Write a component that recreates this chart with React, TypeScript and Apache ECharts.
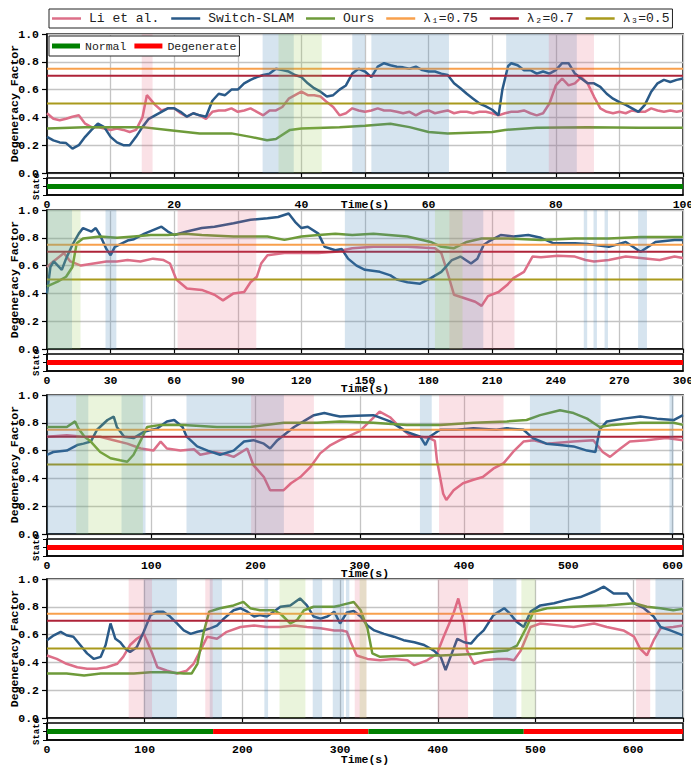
import React, { useEffect, useRef } from 'react';
import * as echarts from 'echarts';

// ---------- data ----------
const thresholds = [0.75, 0.7, 0.5];
const thresholdNames = ['λ₁=0.75', 'λ₂=0.7', 'λ₃=0.5'];
const methodNames = ['Li et al.', 'Switch-SLAM', 'Ours'];
const stateNames = ['Normal', 'Degenerate'];

// Panel 1 (0-100 s)
const p1Li = [[0,.43],[1,.39],[2,.38],[3,.39],[4,.405],[5,.415],[6,.355],[7,.33],[8,.33],[9,.32],[10,.31],[11,.32],[12,.31],[13,.295],[14,.31],[15,.4],[15.7,.56],[17,.49],[18,.45],[19,.465],[20,.465],[21,.43],[22,.405],[23,.43],[24,.415],[25,.39],[26,.44],[27,.45],[28,.45],[29,.465],[30,.44],[31,.45],[32,.465],[33,.44],[34,.415],[35,.45],[36,.45],[37,.475],[38,.535],[39,.56],[40,.585],[41,.56],[42,.56],[43,.55],[44,.51],[45,.475],[46,.415],[47,.43],[48,.465],[49,.45],[50,.44],[51,.45],[52,.465],[53,.45],[54,.45],[55,.44],[56,.43],[57,.44],[58,.415],[59,.44],[60,.45],[61,.43],[62,.44],[63,.45],[64,.43],[65,.44],[66,.44],[67,.43],[68,.44],[69,.44],[70,.43],[71,.415],[72,.43],[73,.44],[74,.44],[75,.45],[76,.43],[77,.415],[78,.43],[79,.5],[80,.63],[81,.68],[82,.63],[83,.645],[84,.69],[85,.645],[86,.55],[87,.465],[88,.44],[89,.43],[90,.44],[91,.43],[92,.45],[93,.44],[94,.44],[95,.465],[96,.45],[97,.44],[98,.45],[99,.44],[100,.45]];
const p1Switch = [[0,.26],[1,.235],[2,.22],[3,.215],[4,.175],[5,.2],[6,.26],[7,.31],[8,.355],[9,.33],[10,.26],[11,.22],[12,.2],[13,.2],[14,.26],[15,.33],[16,.39],[17,.415],[18,.44],[19,.465],[20,.465],[21,.44],[22,.405],[23,.43],[24,.415],[25,.405],[26,.52],[27,.57],[28,.56],[29,.6],[30,.6],[31,.645],[32,.67],[33,.69],[34,.705],[35,.715],[36,.75],[37,.74],[38,.73],[39,.705],[40,.69],[41,.645],[42,.61],[43,.585],[44,.55],[45,.56],[46,.6],[47,.63],[48,.715],[49,.75],[50,.73],[51,.69],[52,.765],[53,.79],[54,.775],[55,.765],[56,.76],[57,.75],[58,.765],[59,.74],[60,.73],[61,.73],[62,.715],[63,.705],[64,.645],[65,.61],[66,.57],[67,.535],[68,.5],[69,.48],[70,.455],[71,.415],[71.6,.6],[72.5,.77],[73,.79],[74,.775],[75,.74],[76,.74],[77,.715],[78,.73],[79,.715],[80,.74],[81,.79],[82,.79],[83,.715],[84,.68],[85,.645],[86,.645],[87,.62],[88,.57],[89,.535],[90,.51],[91,.49],[92,.465],[93,.44],[94,.49],[95,.585],[96,.645],[97,.67],[98,.655],[99,.67],[100,.68]];
const p1Ours = [[0,.32],[6,.33],[15,.33],[19,.31],[24,.285],[29,.285],[32,.26],[34.6,.235],[36,.245],[38.2,.31],[40,.32],[46,.33],[50,.34],[54,.355],[57,.33],[60,.295],[63,.285],[70,.295],[72,.31],[77,.325],[85,.33],[93,.325],[100,.325]];
const p1Blue = [[33.9,38.8],[48,50],[51,63.2],[72.2,83.3]];
const p1Pink = [[14.9,16.6],[78.9,86.0]];
const p1Green = [[36.4,43.2]];
const p1States = [[0,100,0]];

// Panel 2 (0-300 s)
const p2Li = [[0,.59],[3,.63],[8,.69],[11,.63],[16,.6],[22,.615],[28,.63],[33,.63],[38,.64],[44,.63],[50,.65],[55,.64],[58,.615],[61,.5],[66,.435],[73,.425],[79,.39],[83,.35],[88,.4],[93,.41],[96,.48],[99,.52],[101,.615],[104,.675],[112,.69],[120,.69],[128,.69],[136,.7],[144,.725],[154,.735],[170,.735],[183,.725],[186,.69],[189,.545],[192,.39],[197,.365],[202,.34],[205,.31],[208,.38],[213,.41],[217,.46],[220,.51],[225,.555],[229,.665],[233,.66],[241,.67],[249,.665],[254,.64],[258,.63],[265,.64],[273,.665],[280,.655],[289,.64],[296,.665],[300,.655]];
const p2Switch = [[0,.4],[1.6,.59],[3.2,.63],[7,.57],[9,.65],[12,.75],[15,.83],[17,.87],[21,.845],[23,.87],[25,.82],[28,.72],[30,.675],[32,.735],[38,.78],[41,.79],[46,.83],[54,.88],[57,.845],[60,.82],[66,.845],[73,.87],[79,.88],[88,.905],[96,.93],[104,.94],[109,.95],[114,.975],[117,.915],[120,.87],[123,.88],[128,.83],[131,.735],[136,.71],[139,.72],[142,.65],[146,.6],[150,.57],[157,.555],[162,.53],[165,.5],[170,.48],[176,.47],[181,.51],[186,.555],[191,.64],[195,.665],[200,.615],[203,.65],[206,.75],[208,.77],[214,.82],[220,.81],[227,.82],[233,.8],[239,.76],[249,.76],[255,.755],[265,.735],[273,.77],[280,.7],[287,.77],[296,.785],[300,.785]];
const p2Ours = [[0,.45],[5,.485],[9,.52],[12,.59],[14,.76],[17,.795],[25,.81],[33,.8],[41,.81],[49,.82],[57,.82],[65,.83],[73,.82],[88,.81],[104,.81],[112,.785],[120,.81],[128,.82],[136,.83],[144,.82],[154,.83],[170,.81],[181,.77],[186,.735],[192,.725],[198,.77],[205,.795],[217,.795],[233,.785],[249,.795],[265,.795],[280,.805],[296,.805],[300,.805]];
const p2Blue = [[0,11.8],[27.6,32.7],[140.5,205.8],[253.2,254.8],[257.8,259.4],[263,264.6],[278.8,283]];
const p2Pink = [[61.6,98.7],[189.8,220.5]];
const p2Green = [[0,15.8],[183,196]];
const p2States = [[0,300,1]];

// Panel 3 (0-610 s)
const p3Li = [[0,.7],[19,.71],[35,.7],[51,.7],[64,.675],[77,.65],[90,.615],[102,.6],[109,.665],[115,.615],[128,.6],[141,.61],[147,.57],[160,.59],[173,.57],[179,.555],[192,.615],[198,.495],[208,.41],[214,.315],[221,.315],[227,.315],[234,.365],[243,.41],[253,.485],[262,.58],[272,.64],[281,.675],[300,.74],[319,.88],[329,.84],[338,.77],[348,.71],[358,.7],[367,.69],[372,.67],[374,.53],[380,.29],[383,.245],[390,.315],[399,.365],[409,.39],[418,.41],[428,.47],[438,.51],[447,.59],[457,.665],[467,.675],[479,.65],[505,.665],[524,.675],[533,.59],[540,.555],[550,.615],[559,.665],[575,.675],[594,.69],[610,.675]];
const p3Switch = [[0,.57],[6,.59],[19,.6],[29,.64],[35,.65],[42,.665],[48,.75],[58,.82],[64,.845],[67,.77],[74,.7],[83,.69],[93,.735],[106,.76],[115,.81],[122,.82],[130,.77],[134,.7],[144,.63],[154,.6],[166,.57],[179,.6],[189,.665],[198,.675],[208,.65],[214,.615],[221,.675],[227,.71],[237,.77],[246,.81],[256,.855],[266,.87],[275,.855],[281,.845],[297,.85],[313,.855],[329,.81],[345,.735],[358,.7],[363,.64],[367,.7],[377,.75],[393,.75],[409,.76],[431,.75],[441,.76],[457,.75],[466,.69],[479,.65],[492,.64],[505,.63],[518,.6],[526,.59],[530,.75],[537,.81],[553,.83],[569,.845],[585,.83],[601,.82],[610,.855]];
const p3Ours = [[0,.77],[19,.77],[27,.81],[30,.76],[36,.7],[42,.665],[51,.59],[61,.545],[70,.53],[77,.52],[83,.57],[90,.675],[96,.77],[109,.785],[131,.785],[163,.77],[195,.77],[227,.8],[259,.8],[281,.81],[313,.8],[345,.785],[377,.785],[409,.8],[441,.81],[460,.82],[473,.855],[492,.89],[505,.87],[518,.83],[530,.77],[543,.785],[569,.8],[601,.8],[610,.785]];
const p3Blue = [[0,39.6],[71.5,94.5],[133.8,227.2],[357.7,369],[463.2,531],[597,601]];
const p3Pink = [[195.8,256],[376,437.9]];
const p3Green = [[28,92]];
const p3States = [[0,610,1]];

// Panel 4 (0-651 s)
const p4Li = [[0,.45],[10,.425],[20,.39],[31,.365],[41,.355],[51,.355],[61,.365],[72,.39],[78,.44],[85,.525],[92,.57],[99,.605],[102,.56],[108,.46],[113,.365],[123,.34],[133,.32],[143,.34],[150,.39],[157,.485],[164,.585],[174,.57],[184,.62],[198,.655],[212,.665],[225,.655],[239,.655],[253,.665],[266,.655],[280,.645],[294,.63],[302,.63],[307,.62],[311,.545],[317,.45],[328,.425],[341,.415],[355,.425],[369,.415],[376,.38],[389,.415],[399,.46],[406,.585],[416,.75],[421,.86],[427,.68],[430,.485],[437,.39],[447,.415],[461,.425],[471,.425],[478,.415],[485,.485],[495,.655],[505,.68],[519,.67],[539,.655],[560,.68],[573,.655],[590,.63],[601,.585],[607,.5],[614,.45],[621,.56],[628,.645],[641,.655],[651,.665]];
const p4Switch = [[0,.56],[7,.595],[14,.62],[20,.595],[27,.585],[34,.525],[41,.465],[48,.425],[55,.44],[60,.525],[65,.68],[70,.57],[75,.545],[80,.5],[85,.475],[92,.51],[99,.62],[106,.74],[113,.765],[119,.765],[126,.73],[133,.68],[140,.63],[147,.605],[154,.62],[160,.63],[167,.645],[174,.665],[181,.715],[191,.775],[198,.79],[205,.765],[212,.73],[218,.74],[225,.73],[232,.765],[239,.8],[249,.81],[259,.86],[266,.81],[273,.73],[280,.715],[287,.73],[294,.765],[300,.68],[307,.76],[314,.77],[321,.73],[328,.665],[335,.63],[345,.605],[355,.585],[365,.56],[376,.545],[386,.525],[396,.485],[403,.44],[408,.345],[413,.44],[420,.57],[427,.545],[434,.535],[440,.585],[447,.63],[457,.74],[468,.79],[474,.75],[481,.69],[488,.655],[495,.765],[505,.81],[519,.825],[532,.85],[546,.87],[560,.91],[570,.945],[580,.895],[594,.895],[601,.825],[611,.79],[621,.73],[628,.655],[638,.63],[651,.595]];
const p4Ours = [[0,.32],[20,.32],[38,.305],[55,.32],[72,.32],[89,.32],[106,.33],[123,.33],[140,.32],[148,.32],[154,.39],[160,.605],[166,.765],[177,.79],[191,.81],[201,.835],[208,.79],[218,.775],[232,.775],[239,.75],[249,.68],[256,.705],[263,.775],[273,.8],[294,.8],[300,.81],[314,.835],[321,.775],[328,.645],[333,.465],[341,.44],[369,.45],[403,.45],[437,.46],[454,.475],[471,.485],[481,.52],[491,.655],[498,.765],[512,.79],[539,.8],[573,.81],[601,.825],[614,.8],[628,.79],[641,.775],[651,.785]];
const p4Blue = [[99,133],[166.6,179],[222.5,226.3],[272,281.6],[292.5,304],[306,309.5],[456.6,480.5],[622.8,651]];
const p4Pink = [[83.6,107.5],[162,169.6],[315,327],[400,431],[603,617.4]];
const p4Green = [[238,264.5],[320,327],[485.6,500]];
const p4States = [[0,170,0],[170,329,1],[329,488,0],[488,651,1]];

// axis extents / ticks
const xMax = [100, 300, 610, 651];
const xMainStep = [10, 30, 100, 100];
const xLabelStep = [20, 30, 100, 100];

// ---------- styling / layout ----------
const MONO = '"Liberation Mono", "DejaVu Sans Mono", monospace';
const C_LI = '#DD6F88';
const C_SW = '#2A5A88';
const C_OURS = '#6E9B3A';
const C_TH = ['#F8A04C', '#AE2338', '#A99A1C'];
const C_STATE = ['#008000', '#FF0000'];
const SHADE_BLUE = 'rgba(70,130,180,0.22)';
const SHADE_PINK = 'rgba(225,90,115,0.18)';
const SHADE_GREEN = 'rgba(150,200,80,0.2)';

const mainTop = [34, 210, 395, 579];
const mainH = 139;
const stateTop = [178, 354, 539, 723];
const stateH = 17;
const timeGap = [3, 11, 11, 13];

const panels = [
  { li: p1Li, sw: p1Switch, ours: p1Ours, blue: p1Blue, pink: p1Pink, green: p1Green, states: p1States },
  { li: p2Li, sw: p2Switch, ours: p2Ours, blue: p2Blue, pink: p2Pink, green: p2Green, states: p2States },
  { li: p3Li, sw: p3Switch, ours: p3Ours, blue: p3Blue, pink: p3Pink, green: p3Green, states: p3States },
  { li: p4Li, sw: p4Switch, ours: p4Ours, blue: p4Blue, pink: p4Pink, green: p4Green, states: p4States },
];

function buildOption() {
  const grid: any[] = [];
  const xAxis: any[] = [];
  const yAxis: any[] = [];
  const series: any[] = [];
  const boldText = { fontFamily: MONO, fontWeight: 'bold', color: '#000' };
  const gridBase = { left: 47, right: 8, show: true, borderColor: '#000', borderWidth: 1.5, backgroundColor: 'transparent', containLabel: false, outerBoundsMode: 'none' };

  panels.forEach((p, i) => {
    grid.push({ ...gridBase, top: mainTop[i], height: mainH });
    grid.push({ ...gridBase, top: stateTop[i], height: stateH });
    const mi = 2 * i, si = 2 * i + 1;
    xAxis.push({
      type: 'value', gridIndex: mi, min: 0, max: xMax[i], interval: xMainStep[i],
      axisLine: { show: true, onZero: false, lineStyle: { color: '#000', width: 1.5 } },
      axisTick: { show: true, length: 4, lineStyle: { color: '#000', width: 1.2 } },
      axisLabel: { show: false },
      splitLine: { show: true, lineStyle: { color: '#c4c4c4', width: 1.3 } },
    });
    xAxis.push({
      type: 'value', gridIndex: si, min: 0, max: xMax[i], interval: xLabelStep[i],
      axisLine: { show: true, onZero: false, lineStyle: { color: '#000', width: 1.5 } },
      axisTick: { show: false },
      axisLabel: { show: true, margin: 3, fontSize: 11.5, showMaxLabel: xMax[i] % xLabelStep[i] === 0, ...boldText },
      splitLine: { show: false },
      name: 'Time(s)', nameLocation: 'middle', nameGap: timeGap[i], nameMoveOverlap: false,
      nameTextStyle: { fontSize: 11.5, ...boldText },
    });
    yAxis.push({
      type: 'value', gridIndex: mi, min: 0, max: 1, interval: 0.2,
      axisLine: { show: true, lineStyle: { color: '#000', width: 1.5 } },
      axisTick: { show: true, length: 5, lineStyle: { color: '#000', width: 1.2 } },
      axisLabel: { margin: 8, fontSize: 11.5, formatter: (v: number) => v.toFixed(1), ...boldText },
      splitLine: { show: true, lineStyle: { color: '#c4c4c4', width: 1.3 } },
      name: 'Degeneracy Factor', nameLocation: 'middle', nameGap: 27, nameMoveOverlap: false,
      nameTextStyle: { fontSize: 11.5, ...boldText },
    });
    yAxis.push({
      type: 'value', gridIndex: si, min: 0, max: 2, interval: 1,
      axisLine: { show: true, lineStyle: { color: '#000', width: 1.5 } },
      axisTick: { show: true, length: 4, lineStyle: { color: '#000', width: 1 } },
      axisLabel: { show: false },
      splitLine: { show: false },
      name: 'State', nameLocation: 'middle', nameGap: 6, nameMoveOverlap: false,
      nameTextStyle: { fontSize: 9, ...boldText },
    });

    const lineS = (name: string, data: number[][], color: string, z: number, width: number) => ({
      type: 'line', name, data, xAxisIndex: mi, yAxisIndex: mi, color,
      itemStyle: { color }, showSymbol: false, symbol: 'none', z,
      lineStyle: { color, width }, silent: true,
    });
    series.push(lineS(methodNames[0], p.li, C_LI, 2, 2.5));
    series.push(lineS(methodNames[1], p.sw, C_SW, 2, 2.5));
    series.push(lineS(methodNames[2], p.ours, C_OURS, 2, 2.5));
    thresholds.forEach((th, k) => {
      series.push(lineS(thresholdNames[k], [[0, th], [xMax[i], th]], C_TH[k], 3, 2));
    });
    const shade = (regions: number[][], fill: string) => ({
      type: 'custom', xAxisIndex: mi, yAxisIndex: mi, z: 5, silent: true,
      data: regions,
      encode: { x: [0, 1] },
      renderItem: (_params: any, api: any) => {
        const a = api.coord([api.value(0), 1]);
        const b = api.coord([api.value(1), 0]);
        return { type: 'rect', shape: { x: a[0], y: a[1], width: b[0] - a[0], height: b[1] - a[1] }, style: { fill } };
      },
    });
    series.push(shade(p.blue, SHADE_BLUE));
    series.push(shade(p.pink, SHADE_PINK));
    series.push(shade(p.green, SHADE_GREEN));
    p.states.forEach((s) => {
      const color = C_STATE[s[2]];
      series.push({
        type: 'line', name: stateNames[s[2]], data: [[s[0], 1], [s[1], 1]],
        xAxisIndex: si, yAxisIndex: si, color, itemStyle: { color }, showSymbol: false, symbol: 'none',
        lineStyle: { color, width: 5, cap: 'butt' }, z: 2, silent: true,
      });
    });
  });

  return {
    animation: false,
    backgroundColor: '#fff',
    grid, xAxis, yAxis, series,
    legend: [
      {
        data: [...methodNames, ...thresholdNames], left: 49, top: 9, orient: 'horizontal',
        icon: 'rect', itemWidth: 29, itemHeight: 2.5, itemGap: 12, selectedMode: false,
        borderColor: '#222', borderWidth: 1, borderRadius: 0, padding: [3, 3, 3, 3],
        backgroundColor: '#fff', z: 10,
        textStyle: { fontFamily: MONO, fontSize: 13, color: '#222', padding: [0, 0, 0, 3] },
      },
      {
        data: stateNames, left: 49, top: 36, orient: 'horizontal',
        icon: 'rect', itemWidth: 28, itemHeight: 5, itemGap: 8, selectedMode: false,
        borderColor: '#222', borderWidth: 1, borderRadius: 0, padding: [4, 3, 4, 3],
        backgroundColor: '#fff', z: 10,
        textStyle: { fontFamily: MONO, fontSize: 11.5, color: '#222' },
      },
    ],
  };
}

export default function App() {
  const ref = useRef<HTMLDivElement>(null);
  useEffect(() => {
    const chart = echarts.init(ref.current!, null, { renderer: 'svg' });
    chart.setOption(buildOption() as any);
    return () => chart.dispose();
  }, []);
  return <div ref={ref} style={{ position: 'absolute', left: 0, top: 0, width: 691, height: 765 }} />;
}
